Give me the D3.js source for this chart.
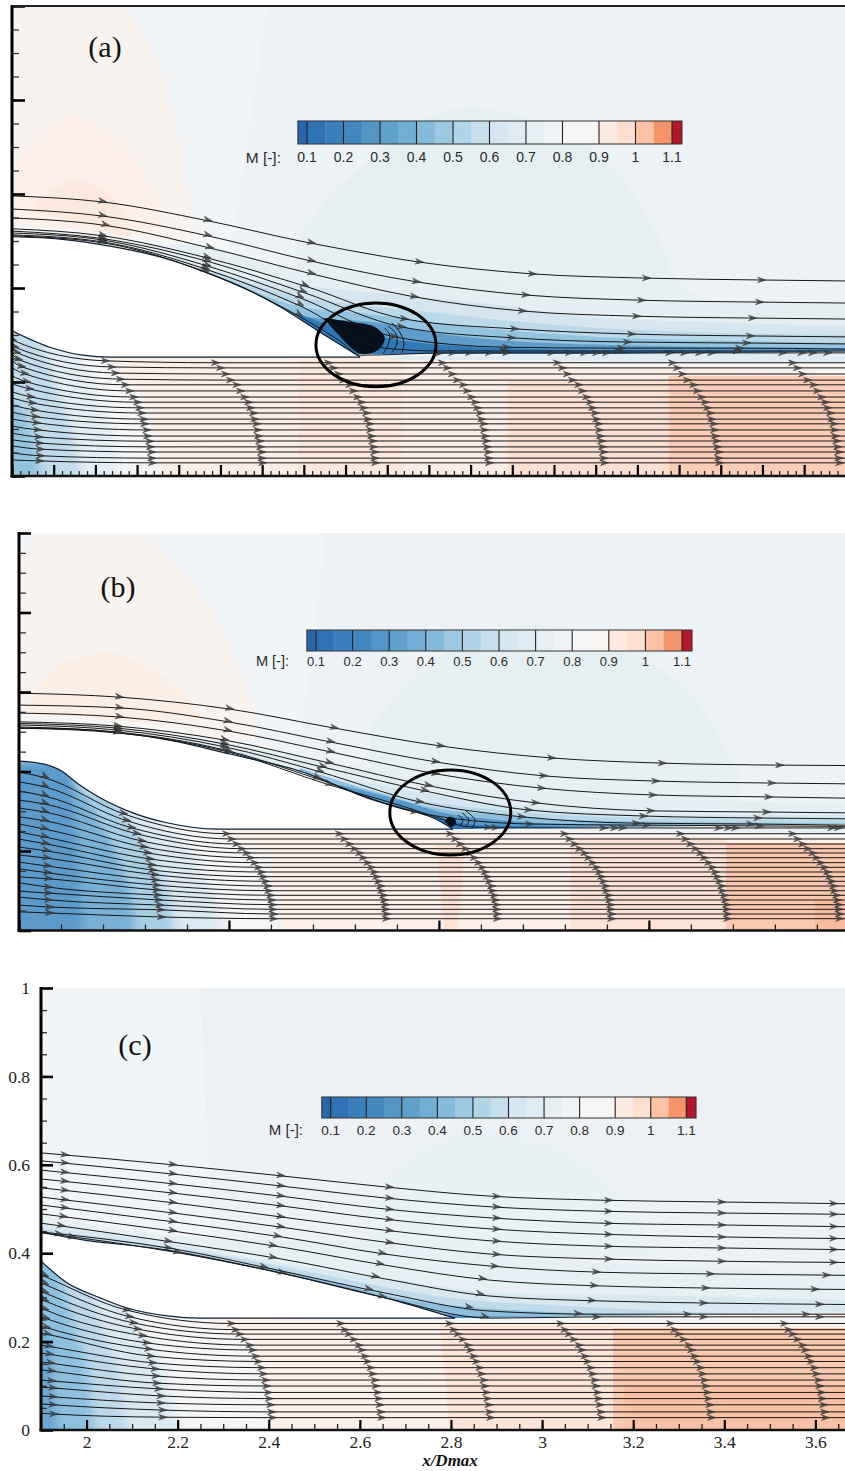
<!DOCTYPE html>
<html><head><meta charset="utf-8">
<script src="https://cdn.jsdelivr.net/npm/d3@7"></script>
<style>html,body{margin:0;padding:0;background:#fff}svg{display:block}</style>
</head><body><div id="chart"></div>
<script>
// Colour bar
const barEdges=[.075,.1,.15,.2,.25,.3,.35,.4,.45,.5,.55,.6,.65,.7,.75,.8,.85,.9,.95,1,1.05,1.1,1.127];
const barColors=["#2b66aa","#2f72b5","#3a7fba","#4288be","#5595c6","#5fa1ca","#70aed4","#85bada","#9cc8e0","#b1d5e7","#c5dfec","#d4e6f1","#deebf2","#e6eff4","#eff3f6","#f5f6f7","#f9f5f2","#fce9e0","#fcdfce","#fbc0a6","#f5936b","#b2182b"];
const barTicks=[.1,.2,.3,.4,.5,.6,.7,.8,.9,1,1.1];

// ---------- Panel (a) ----------
const aSurface=[[1.9,.509],[2.015,.504],[2.135,.489],[2.255,.466],[2.351,.438],[2.471,.394],[2.543,.36],[2.639,.306],[2.735,.253]];
const aLip=[[1.9,.309],[1.991,.274],[2.07,.257],[2.135,.253],[2.735,.253]];
const aUpperRegions=[
 ["#f1f5f7",[[1.9,1],[2.511,1]],[[2.43,.502],[1.9,.502]]],
 ["#f9f3ef",[[2.166,1],[2.231,.921],[2.279,.8],[2.32,.615],[2.344,.502]],[[1.9,.502],[1.9,1]]],
 ["#fbefe7",[[1.9,.64],[1.943,.704],[2.051,.766],[2.176,.694],[2.248,.587],[2.267,.53]],[[1.9,.5]]],
 ["#fce9dd",[[1.955,.581],[1.991,.604],[2.051,.628],[2.123,.604],[2.171,.555],[2.183,.509],[2.063,.541],[1.955,.56]],[]],
 ["#f4f5f5",[[1.9,.536],[2.015,.528],[2.159,.511],[2.279,.502],[2.423,.502]],[[2.423,.3],[1.9,.3]]],
 ["#e6f0f2",[[2.583,.502],[2.663,.598],[2.751,.666],[2.878,.758],[3.015,.783],[3.231,.73],[3.351,.645],[3.454,.502],[3.495,.417],[3.55,.381],[3.898,.375]],[[3.898,.26],[2.583,.26]]]
];
const aBands=[
 ["#e4eef3",[[2.183,.492],[2.351,.492],[2.495,.455],[2.591,.438],[2.83,.421],[3.07,.406],[3.31,.379],[3.55,.37],[3.898,.362]]],
 ["#d5e6f0",[[2.279,.47],[2.423,.428],[2.591,.406],[2.83,.385],[3.07,.364],[3.31,.336],[3.55,.328],[3.898,.319]]],
 ["#bcd9e9",[[2.351,.447],[2.495,.402],[2.591,.381],[2.735,.364],[2.902,.349],[3.07,.332],[3.31,.315],[3.55,.306],[3.898,.3]]],
 ["#94c3de",[[2.423,.417],[2.591,.36],[2.711,.349],[2.902,.328],[3.07,.311],[3.31,.296],[3.55,.289],[3.898,.283]]],
 ["#5d9ccb",[[2.495,.381],[2.615,.338],[2.759,.328],[2.902,.306],[3.07,.289],[3.31,.279],[3.898,.272]]],
 ["#3178b6",[[2.591,.343],[2.699,.311],[2.83,.289],[2.998,.275],[3.31,.268],[3.898,.266]]]
];
const aLowerRegions=[
 ["#fde8dd",[[2.586,.253],[2.835,.253]],[[2.835,0],[2.586,0]]],
 ["#fce0d1",[[3.089,.204],[3.475,.204]],[[3.475,0],[3.089,0]]],
 ["#f9cdb6",[[3.475,.213],[3.898,.213]],[[3.898,0],[3.475,0]]],
 ["#f4f5f6",[[2.135,.33],[2.135,.253],[2.214,.168],[2.248,.091],[2.262,0]],[[1.9,0],[1.9,.33]],1],
 ["#e3eef4",[[2.051,.33],[2.051,.279],[2.111,.162],[2.147,.077],[2.171,0]],[[1.9,0],[1.9,.33]],1],
 ["#c0dbea",[[1.967,.33],[1.967,.3],[2.015,.162],[2.051,.077],[2.075,0]],[[1.9,0],[1.9,.33]],1],
 ["#94c3de",[[1.9,.247],[1.931,.14],[1.955,.066],[1.991,0]],[[1.9,0]],1],
 ["#f5f4f2",[[2.543,.253],[2.782,.251],[3.07,.243],[3.406,.23],[3.898,.219]],[[3.898,.262],[2.735,.262]]],
 ["#dfecf3",[[2.735,.262],[2.83,.247],[3.07,.247],[3.406,.243],[3.898,.243]],[[3.898,.262]]]
];
const aCore=[[2.646,.336],[2.711,.328],[2.77,.317],[2.794,.294],[2.778,.268],[2.735,.26],[2.699,.285]];
const aLoops=[[[2.79,.26],[2.802,.279],[2.806,.3],[2.794,.315]],[[2.811,.262],[2.823,.281],[2.821,.302],[2.802,.319]],[[2.835,.262],[2.84,.283],[2.83,.306],[2.811,.326]]];
const aUpperX=[
 [1.9,2.118,2.37,2.591,2.703,2.878,3.149,3.423,3.699,3.898],
 [1.9,2.118,2.37,2.619,2.871,3.133,3.411,3.694,3.898],
 [1.9,2.125,2.375,2.619,2.866,3.125,3.399,3.677,3.898],
 [1.9,2.118,2.368,2.603,2.842,3.106,3.387,3.672,3.898],
 [1.9,2.118,2.368,2.598,2.835,3.099,3.377,3.663,3.898],
 [1.9,2.118,2.368,2.591,2.818,3.087,3.363,3.646,3.898],
 [1.9,2.118,2.365,2.591,2.794,2.926,3.31,3.898],
 [1.9,2.118,2.363,2.588,2.687,2.735,2.95,3.898]];
const aUpperY=[
 [.596,.583,.543,.5,.481,.455,.43,.421,.417,.415],
 [.568,.553,.511,.457,.413,.385,.374,.37,.368],
 [.549,.533,.485,.43,.381,.351,.34,.336,.334],
 [.526,.511,.464,.404,.334,.313,.302,.298,.296],
 [.521,.505,.457,.391,.317,.294,.285,.283,.281],
 [.517,.502,.447,.379,.296,.274,.272,.272,.27],
 [.513,.498,.44,.362,.272,.266,.266,.266],
 [.511,.496,.434,.34,.287,.257,.262,.262]];
const aUpperArrows=[
 [2.118,2.37,2.619,2.878,3.149,3.423,3.699],
 [2.118,2.37,2.619,2.871,3.133,3.411,3.694],
 [2.125,2.375,2.619,2.866,3.125,3.399,3.677],
 [2.118,2.368,2.603,2.842,3.106,3.387,3.672],
 [2.118,2.368,2.598,2.835,3.099,3.377,3.663],
 [2.118,2.368,2.591,2.818,3.087,3.363,3.646],
 [2.118,2.365,2.591,3.08,3.355,3.64],
 [2.118,2.363,2.588,2.926,2.958,2.998,3.046,3.087,3.195,3.238,3.274,3.303,3.327,3.478,3.514,3.55,3.579,3.749,3.795,3.821,3.857]];
const aRowStart=[.3,.287,.274,.26,.245,.23,.213,.196,.179,.166,.151,.136,.121,.106,.091,.077,.064,.049,.034];
const aCol0X=[1.902,1.907,1.912,1.917,1.924,1.931,1.936,1.943,1.946,1.95,1.955,1.957,1.96,1.962,1.965,1.967,1.969,1.969,1.967];
const aCol0Y=[.289,.274,.262,.247,.232,.217,.2,.185,.168,.155,.14,.126,.113,.098,.083,.07,.057,.043,.032];
const aCol1X=[2.125,2.14,2.149,2.161,2.173,2.183,2.193,2.202,2.207,2.212,2.217,2.219,2.224,2.226,2.231,2.233,2.236,2.236,2.238];
const aCol1Y=[.245,.232,.219,.206,.194,.181,.168,.157,.145,.134,.121,.111,.098,.085,.074,.062,.051,.038,.028];
const aRowFinal=[.241,.23,.217,.204,.194,.181,.168,.157,.145,.134,.121,.111,.098,.085,.0745,.062,.051,.038,.028];
const aSweep=[.113,.101,.089,.077,.062,.053,.043,.034,.029,.022,.019,.014,.012,.01,.007,.005,.002,.002,0];
const aColEnds=[2.502,2.773,3.046,3.322,3.598,3.886];

// ---------- Panel (b) ----------
const bSurface=[[1.9,.509],[2.021,.507],[2.14,.497],[2.267,.477],[2.402,.444],[2.569,.401],[2.736,.331],[2.88,.286],[2.933,.255]];
const bLip=[[1.902,.426],[1.957,.419],[2.005,.399],[2.038,.371],[2.093,.334],[2.171,.296],[2.252,.271],[2.371,.255],[2.933,.255]];
const bUpperRegions=[
 ["#f1f5f7",[[1.9,1],[2.629,1]],[[2.598,.681],[2.569,.504],[1.9,.504]]],
 ["#f9f3ef",[[1.9,.932],[1.91,.95],[1.967,1],[2.171,1],[2.252,.94],[2.348,.824],[2.426,.656],[2.467,.53],[2.467,.48]],[[1.9,.48]]],
 ["#fbeee5",[[1.926,.572],[1.99,.663],[2.11,.698],[2.212,.663],[2.3,.587],[2.338,.53]],[[2.14,.52],[1.926,.545]]],
 ["#f5f5f4",[[1.9,.542],[2.045,.537],[2.212,.517],[2.402,.479],[2.498,.467]],[[2.498,.328],[1.9,.328]]],
 ["#e6f0f2",[[2.736,.512],[2.843,.638],[2.974,.731],[3.14,.769],[3.307,.731],[3.421,.663],[3.512,.58],[3.595,.429],[3.617,.391]],[[3.617,.265],[2.736,.265]]]
];
const bBands=[
 ["#e3eef3",[[2.283,.492],[2.521,.449],[2.736,.404],[2.974,.366],[3.188,.341],[3.521,.328],[3.867,.316]]],
 ["#d4e6f0",[[2.331,.467],[2.569,.404],[2.76,.366],[2.974,.328],[3.188,.303],[3.521,.291],[3.867,.291]]],
 ["#bcd9e9",[[2.426,.449],[2.617,.386],[2.807,.336],[3.045,.303],[3.283,.286],[3.867,.278]]],
 ["#8fc0dd",[[2.569,.409],[2.736,.353],[2.879,.311],[3.045,.291],[3.283,.276],[3.867,.27]]],
 ["#5698c9",[[2.664,.366],[2.807,.328],[2.902,.298],[3.045,.278],[3.283,.265],[3.867,.263]]],
 ["#2f74b4",[[2.76,.323],[2.879,.288],[2.998,.265],[3.283,.26],[3.867,.258]]]
];
const bLowerRegions=[
 ["#fde3d6",[[2.893,.215],[2.962,.215]],[[2.945,0],[2.914,0]]],
 ["#fde3d5",[[3.214,.233],[3.583,.233]],[[3.583,0],[3.214,0]]],
 ["#f9c8ae",[[3.583,.22],[3.867,.22]],[[3.867,0],[3.583,0]]],
 ["#f8bb9d",[[3.795,.077],[3.867,.077]],[[3.867,0],[3.795,0]]],
 ["#f4f5f6",[[2.362,.33],[2.362,.258],[2.49,.195],[2.514,.102],[2.529,0]],[[1.9,0],[1.9,.33]],1],
 ["#dbe9f2",[[2.188,.33],[2.307,.203],[2.367,.077],[2.414,0]],[[1.9,0],[1.9,.33]],1],
 ["#a9cfe5",[[2.105,.353],[2.212,.203],[2.26,.077],[2.283,0]],[[1.9,0],[1.9,.353]],1],
 ["#78b0d6",[[2.021,.404],[2.117,.228],[2.164,.102],[2.188,0]],[[1.9,0],[1.9,.404]],1],
 ["#5b9acb",[[2.021,.429],[2.033,.253],[2.045,.127],[2.057,0]],[[1.9,0],[1.9,.429]],1],
 ["#f5f4f2",[[2.569,.255],[2.807,.253],[3.045,.243],[3.867,.233]],[[3.867,.258],[2.569,.258]]],
 ["#e6f0f5",[[2.933,.255],[3.867,.245]],[[3.867,.258],[2.933,.258]]]
];
const bCore=[[2.914,.273],[2.924,.286],[2.938,.281],[2.94,.268],[2.929,.26]];
const bLoops=[[[2.95,.263],[2.957,.278],[2.945,.291]],[[2.964,.26],[2.971,.278],[2.955,.296]],[[2.979,.258],[2.986,.278],[2.964,.301]]];
const bUpperX=[
 [1.9,2.14,2.402,2.652,2.905,3.169,3.433,3.712,3.867],
 [1.9,2.14,2.398,2.643,2.893,3.15,3.417,3.693,3.867],
 [1.9,2.14,2.398,2.643,2.893,3.145,3.41,3.686,3.867],
 [1.9,2.136,2.39,2.64,2.876,3.131,3.405,3.681,3.867],
 [1.9,2.136,2.39,2.624,2.867,3.114,3.388,3.66,3.867],
 [1.9,2.136,2.39,2.617,2.855,3.098,3.371,3.643,3.867],
 [1.9,2.136,2.39,2.612,2.843,3.117,3.395,3.664,3.867],
 [1.9,2.136,2.402,2.64,2.807,2.914,2.96,3.045,3.867]];
const bUpperY=[
 [.597,.587,.557,.509,.464,.434,.421,.416,.415],
 [.567,.56,.525,.474,.424,.389,.376,.371,.369],
 [.547,.537,.502,.449,.394,.358,.341,.336,.333],
 [.525,.514,.479,.421,.364,.321,.301,.298,.296],
 [.521,.509,.469,.411,.351,.303,.288,.283,.281],
 [.517,.504,.462,.399,.323,.286,.27,.268,.265],
 [.512,.499,.454,.381,.298,.268,.265,.263,.262],
 [.509,.497,.448,.366,.315,.278,.262,.258,.258]];
const bUpperArrows=[
 [2.14,2.402,2.652,2.905,3.169,3.433,3.712],
 [2.14,2.398,2.643,2.893,3.15,3.417,3.693],
 [2.14,2.398,2.643,2.893,3.145,3.41,3.686],
 [2.136,2.39,2.64,2.876,3.131,3.405,3.681],
 [2.136,2.39,2.624,2.867,3.114,3.388,3.66],
 [2.136,2.39,2.617,2.855,3.098,3.371,3.643],
 [2.136,2.39,2.612,2.843,3.117,3.395,3.664],
 [2.136,2.402,2.64,3.019,3.036,3.293,3.319,3.338,3.567,3.59,3.607,3.836,3.852]];
const bRowStart=[.399,.374,.351,.328,.308,.286,.268,.248,.23,.21,.19,.172,.155,.135,.12,.099,.084,.064,.047];
const bCol0X=[1.962,1.962,1.962,1.962,1.962,1.962,1.962,1.962,1.964,1.967,1.967,1.969,1.969,1.971,1.971,1.971,1.971,1.974,1.974];
const bCol0Y=[.384,.361,.338,.318,.298,.276,.255,.235,.218,.2,.182,.162,.145,.13,.109,.094,.077,.059,.044];
const bCol1X=[2.15,2.157,2.169,2.181,2.193,2.198,2.207,2.212,2.217,2.219,2.224,2.226,2.229,2.229,2.231,2.233,2.236,2.238,2.24];
const bCol1Y=[.293,.276,.258,.243,.225,.21,.195,.18,.165,.152,.14,.127,.114,.102,.089,.077,.064,.052,.034];
const bRowFinal=[.2435,.2302,.2176,.2058,.195,.1831,.1706,.159,.1472,.1354,.1238,.1119,.1001,.0885,.0767,.0649,.0533,.0415,.0297];
const bSweep=[.112,.1,.088,.076,.064,.055,.045,.036,.029,.024,.019,.014,.012,.007,.005,.002,.002,0,0];
const bColEnds=[2.507,2.776,3.04,3.312,3.588,3.855];

// ---------- Panel (c) ----------
const cSurface=[[1.9,.448],[1.992,.43],[2.177,.407],[2.396,.362],[2.541,.328],[2.688,.29],[2.809,.253]];
const cLip=[[1.9,.382],[1.957,.333],[2.03,.299],[2.089,.276],[2.177,.258],[2.249,.253],[2.809,.253]];
const cUpperRegions=[
 ["#f2f5f7",[[1.9,1],[2.249,1]],[[2.271,.565],[2.271,.43],[1.9,.43]]],
 ["#e8f1f3",[[2.598,.43],[2.675,.588],[2.776,.656],[2.851,.672],[3.002,.649],[3.14,.565],[3.233,.43],[3.248,.396]],[[2.598,.396]]]
];
const cBands=[
 ["#e6f0f4",[[1.9,.486],[2.183,.441],[2.359,.43],[2.6,.425],[2.908,.396],[3.237,.373],[3.665,.357]]],
 ["#d9e9f1",[[1.9,.464],[2.139,.43],[2.381,.385],[2.688,.339],[2.908,.31],[3.237,.305],[3.665,.294]]],
 ["#bfdbea",[[1.9,.455],[2.249,.403],[2.469,.362],[2.688,.317],[2.842,.294],[3.017,.283],[3.237,.271],[3.665,.26]]],
 ["#8dbedc",[[2.381,.373],[2.556,.33],[2.732,.29],[2.864,.276],[3.017,.267],[3.215,.26],[3.347,.256]]],
 ["#4b8ec3",[[2.556,.323],[2.732,.271],[2.842,.258],[3.039,.256]]]
];
const cLowerRegions=[
 ["#fde5d8",[[2.776,.238],[3.156,.238]],[[3.156,0],[2.796,0]]],
 ["#f9c9b0",[[3.156,.231],[3.665,.231]],[[3.665,0],[3.156,0]]],
 ["#f9c2a6",[[3.182,.102],[3.665,.102]],[[3.665,0],[3.182,0]]],
 ["#f4f5f6",[[2.265,.4],[2.265,.253],[2.359,.192],[2.398,.102],[2.403,0]],[[1.9,0],[1.9,.4]],1],
 ["#dbe9f2",[[2.089,.4],[2.089,.276],[2.172,.136],[2.227,0]],[[1.9,0],[1.9,.4]],1],
 ["#bcd8e9",[[2.008,.4],[2.008,.305],[2.069,.136],[2.102,0]],[[1.9,0],[1.9,.4]],1],
 ["#8fc0dd",[[1.942,.4],[1.942,.339],[1.997,.158],[2.03,0]],[[1.9,0],[1.9,.4]],1],
 ["#6ca6d1",[[1.9,.373],[1.92,.204],[1.942,0]],[[1.9,0]],1],
 ["#f6f4f2",[[2.26,.254],[2.8,.243],[3.665,.24]],[[3.665,.256],[2.26,.256]]]
];
const cUpperX=[1.9,2.19,2.427,2.655,2.886,3.127,3.38,3.665];
const cUpperY=[
 [.627,.6,.575,.55,.529,.52,.516,.512],
 [.609,.579,.552,.525,.505,.495,.491,.488],
 [.588,.557,.529,.5,.48,.468,.464,.46],
 [.568,.536,.507,.477,.455,.443,.437,.433],
 [.548,.514,.482,.452,.428,.416,.412,.408],
 [.527,.491,.459,.425,.398,.387,.382,.379],
 [.509,.471,.437,.398,.371,.357,.353,.35],
 [.489,.45,.414,.373,.339,.326,.321,.318],
 [.468,.425,.387,.342,.303,.292,.287,.284],
 [.448,.41,.36,.31,.269,.262,.262,.262],
 [.446,.403,.355,.299,.253,.256,.256,.256]];
const cUpperArrows=[
 [1.953,2.19,2.427,2.666,2.901,3.147,3.395,3.641],
 [1.953,2.19,2.427,2.666,2.901,3.147,3.395,3.641],
 [1.953,2.19,2.427,2.666,2.901,3.147,3.395,3.641],
 [1.953,2.19,2.427,2.666,2.901,3.147,3.395,3.641],
 [1.953,2.19,2.427,2.666,2.901,3.147,3.395,3.641],
 [1.953,2.19,2.427,2.666,2.901,3.147,3.395,3.641],
 [1.953,2.19,2.42,2.65,2.897,3.12,3.37,3.625],
 [1.95,2.19,2.41,2.645,2.87,3.115,3.36,3.6],
 [1.945,2.18,2.41,2.635,2.865,3.11,3.355,3.61],
 [1.94,2.18,2.39,2.62,2.84,3.08,3.32,3.58],
 [1.97,2.2,2.43,2.65,2.875,3.12,3.355,3.61]];
const cRowStart=[.351,.333,.314,.296,.276,.256,.235,.219,.192,.174,.154,.136,.113,.097,.077,.059,.038];
const cCol0X=[1.909,1.909,1.909,1.909,1.909,1.911,1.913,1.915,1.918,1.92,1.922,1.924,1.924,1.927,1.927,1.927,1.929];
const cCol0Y=[.347,.329,.31,.292,.272,.252,.231,.216,.189,.171,.151,.133,.111,.095,.075,.057,.036];
const cCol1X=[2.089,2.095,2.104,2.113,2.124,2.133,2.137,2.142,2.146,2.151,2.153,2.155,2.159,2.164,2.164,2.168,2.168];
const cCol1Y=[.271,.256,.242,.228,.213,.197,.183,.167,.152,.138,.122,.106,.093,.077,.061,.045,.029];
const cRowFinal=[.241,.227,.217,.205,.192,.181,.167,.155,.141,.127,.113,.0995,.085,.071,.057,.041,.028];
const cSweep=[.09,.081,.072,.061,.05,.044,.037,.031,.024,.02,.015,.013,.009,.007,.004,.002,0];
const cColEnds=[2.409,2.649,2.888,3.132,3.373,3.623];
const cYLabels=[0,.2,.4,.6,.8,1];
const cXLabels=[2,2.2,2.4,2.6,2.8,3,3.2,3.4,3.6];

const W=845,H=1471;
const svg=d3.select("#chart").append("svg").attr("width",W).attr("height",H);
const defs=svg.append("defs");
defs.append("filter").attr("id","soft").attr("x","-30%").attr("y","-30%").attr("width","160%").attr("height","160%")
  .append("feGaussianBlur").attr("stdDeviation",5);

function seq(a,b,s){const o=[];for(let i=0;Math.round((a+i*s)*1000)/1000<=b+1e-9;i++)o.push(Math.round((a+i*s)*1000)/1000);return o;}

function yAt(xs,ys,v){
  let i=d3.bisectRight(xs,v)-1; i=Math.max(0,Math.min(xs.length-2,i));
  return d3.scaleLinear().domain([xs[i],xs[i+1]]).range([ys[i],ys[i+1]])(v);
}

function drawPanel(p){
  const x=d3.scaleLinear().domain(p.xDomain).range(p.xRange);
  const y=d3.scaleLinear().domain([0,1]).range(p.yRange);
  const g=svg.append("g");
  const id=p.id;
  defs.append("clipPath").attr("id","plot"+id).append("rect")
    .attr("x",p.xRange[0]).attr("y",p.yRange[1]).attr("width",p.xRange[1]-p.xRange[0]).attr("height",p.yRange[0]-p.yRange[1]);
  const smooth=d3.line().x(d=>x(d[0])).y(d=>y(d[1])).curve(d3.curveCatmullRom.alpha(.5));
  const mono=d3.line().x(d=>x(d[0])).y(d=>y(d[1])).curve(d3.curveMonotoneX);
  const straight=d3.line().x(d=>x(d[0])).y(d=>y(d[1]));
  const tail=c=>c.map(d=>"L"+x(d[0])+","+y(d[1])).join("");
  const plot=g.append("g").attr("clip-path","url(#plot"+id+")");
  plot.append("rect").attr("x",x(p.xDomain[0])).attr("y",y(1)).attr("width",x(p.xDomain[1])-x(p.xDomain[0])).attr("height",y(0)-y(1)).attr("fill",p.base);
  plot.selectAll("path.up").data(p.upper).join("path").attr("class","up").attr("fill",d=>d[0]).attr("d",d=>smooth(d[1])+tail(d[2])+"Z");
  const closeY=p.closeY, xMax=p.xDomain[1];
  plot.selectAll("path.band").data(p.bands).join("path").attr("class","band").attr("fill",d=>d[0])
    .attr("d",d=>mono(d[1])+tail([[d[1][d[1].length-1][0],closeY],[d[1][0][0],closeY]])+"Z");
  // solid body
  plot.append("path").attr("fill","#fff").attr("d",smooth(p.surface)+tail(p.lip.slice().reverse())+"Z");
  // lower duct, clipped to the wall
  const lowerPoly=[[xMax,p.lip[p.lip.length-1][1]+.012],[xMax,0],[p.xDomain[0],0]];
  defs.append("clipPath").attr("id","low"+id).append("path").attr("d",mono(p.lip)+tail(lowerPoly)+"Z");
  const low=plot.append("g").attr("clip-path","url(#low"+id+")");
  low.append("rect").attr("x",x(p.xDomain[0])).attr("y",y(.5)).attr("width",x(xMax)-x(p.xDomain[0])).attr("height",y(0)-y(.5)).attr("fill",p.lowerBase);
  const spread=d=>[d[0]<=1.9?1.75:d[0], d[1]<=0?-.1:d[1]];
  low.selectAll("path").data(p.lower).join("path").attr("fill",d=>d[0])
    .attr("filter",d=>d[3]?"url(#soft)":null)
    .attr("d",d=>d[3]?straight(d[1].map(spread))+tail(d[2].map(spread))+"Z":straight(d[1])+tail(d[2])+"Z");
  // walls
  plot.append("path").attr("fill","none").attr("stroke","#0c1f33").attr("stroke-width",1.2).attr("d",smooth(p.surface));
  plot.append("path").attr("fill","none").attr("stroke","#0c1f33").attr("stroke-width",1.2).attr("d",mono(p.lip));
  if(p.core) plot.append("path").attr("fill","#05101c").attr("d",smooth(p.core)+"Z");
  // streamlines
  const lines=plot.append("g").attr("fill","none").attr("stroke","#161616").attr("stroke-width",1);
  const arrows=plot.append("g").attr("fill","#444").attr("stroke","#222").attr("stroke-width",.4).attr("fill-opacity",.85);
  const addArrow=(ax,ay,ang)=>arrows.append("path").attr("d","M0,0L-8.5,-2.9L-5.8,0L-8.5,2.9Z")
     .attr("transform","translate("+(x(ax)+4)+","+y(ay)+") rotate("+ang+")");
  const addStream=(xs,ys,axs)=>{
    lines.append("path").attr("d",mono(xs.map((v,i)=>[v,ys[i]])));
    axs.forEach(ax=>{
      let i=d3.bisectRight(xs,ax)-1; i=Math.max(0,Math.min(xs.length-2,i));
      const ang=Math.atan2(y(ys[i+1])-y(ys[i]),x(xs[i+1])-x(xs[i]))*180/Math.PI;
      addArrow(ax,yAt(xs,ys,ax),ang);
    });
  };
  p.upperY.forEach((ys,i)=>{
    const xs=Array.isArray(p.upperX[0])?p.upperX[i]:p.upperX;
    addStream(xs,ys,p.upperArrows[i]);
  });
  (p.loops||[]).forEach(l=>lines.append("path").attr("d",smooth(l)));
  // duct streamlines
  p.rowStart.forEach((s,i)=>{
    const cols=p.colEnds.map(e=>+(e-p.sweep[i]).toFixed(3));
    const xs=[p.xDomain[0],p.col0X[i],p.col1X[i]].concat(cols,[xMax]);
    const ys=[s,p.col0Y[i],p.col1Y[i]].concat(cols.map(()=>p.rowFinal[i]),[p.rowFinal[i]]);
    addStream(xs,ys,[p.col0X[i],p.col1X[i]].concat(cols));
  });
  // colour bar
  const b=p.bar;
  const bx=d3.scaleLinear().domain([.1,1.1]).range([b.x0,b.x1]);
  const bg=g.append("g");
  bg.selectAll("rect").data(barColors).join("rect")
    .attr("x",(d,i)=>bx(barEdges[i])).attr("y",b.top)
    .attr("width",(d,i)=>bx(barEdges[i+1])-bx(barEdges[i])+.4).attr("height",b.bottom-b.top).attr("fill",d=>d);
  bg.selectAll("line").data(barTicks).join("line").attr("x1",d=>bx(d)).attr("x2",d=>bx(d)).attr("y1",b.top).attr("y2",b.bottom).attr("stroke","#222").attr("stroke-width",1.1);
  bg.append("rect").attr("x",bx(.075)).attr("y",b.top).attr("width",bx(1.127)-bx(.075)).attr("height",b.bottom-b.top).attr("fill","none").attr("stroke","#333").attr("stroke-width",1);
  bg.selectAll("text.t").data(barTicks).join("text").attr("class","t").attr("x",d=>bx(d)).attr("y",b.labelY).attr("text-anchor","middle").attr("dy","0.36em")
    .attr("font-family","'Liberation Sans',Arial,sans-serif").attr("font-size",b.fs).attr("fill","#2a2a2a").text(d=>d);
  bg.append("text").attr("x",b.mx).attr("y",b.labelY).attr("text-anchor","end").attr("dy","0.36em")
    .attr("font-family","'Liberation Sans',Arial,sans-serif").attr("font-size",b.fs+1.5).attr("fill","#2a2a2a").text("M [-]:");
  // panel tag
  g.append("text").attr("x",p.tag[0]).attr("y",p.tag[1]).attr("text-anchor","middle").attr("font-family","'Liberation Serif',serif").attr("font-size",30).attr("fill","#111").text(p.tag[2]);
  // ellipse mark
  if(p.ring) g.append("ellipse").attr("cx",x(p.ring[0])).attr("cy",y(p.ring[1])).attr("rx",x(p.ring[0]+p.ring[2])-x(p.ring[0])).attr("ry",y(p.ring[1])-y(p.ring[1]+p.ring[3]))
    .attr("fill","none").attr("stroke","#000").attr("stroke-width",3);
  // axes
  const ax=g.append("g").attr("class","axes");
  const style=(sel,w,col)=>{sel.selectAll("line").attr("stroke",col||"#000").attr("stroke-width",w);sel.selectAll("path.domain").remove();sel.selectAll("text").remove();};
  const left=x.range()[0], bot=y.range()[0];
  const yMin=ax.append("g").attr("transform","translate("+left+",0)").call(d3.axisLeft(y).tickValues(seq(0,1,.05)).tickSize(-p.tickLens[1]));style(yMin,1.3,"#333");
  const yMaj=ax.append("g").attr("transform","translate("+left+",0)").call(d3.axisLeft(y).tickValues(seq(0,1,.2)).tickSize(-p.tickLens[0]));style(yMaj,2.6);
  const xMin=ax.append("g").attr("transform","translate(0,"+bot+")").call(d3.axisBottom(x).tickValues(p.xMinor).tickSize(-p.tickLens[3]));style(xMin,1.3,"#222");
  const xMaj=ax.append("g").attr("transform","translate(0,"+bot+")").call(d3.axisBottom(x).tickValues(p.xMajor).tickSize(-p.tickLens[2]));style(xMaj,2.2);
  ax.append("line").attr("x1",left).attr("x2",left).attr("y1",y(1)-1).attr("y2",bot+1.5).attr("stroke","#000").attr("stroke-width",3);
  ax.append("line").attr("x1",left-1.5).attr("x2",x.range()[1]).attr("y1",bot).attr("y2",bot).attr("stroke","#111").attr("stroke-width",2.6);
  if(p.topLine) ax.append("line").attr("x1",left).attr("x2",x.range()[1]).attr("y1",y(1)).attr("y2",y(1)).attr("stroke","#222").attr("stroke-width",2);
  if(p.labels){
    const yl=d3.axisLeft(y).tickValues(cYLabels).tickSize(0).tickPadding(11).tickFormat(d3.format("~g"));
    const xl=d3.axisBottom(x).tickValues(cXLabels).tickSize(0).tickPadding(6).tickFormat(d3.format("~g"));
    const a1=ax.append("g").attr("transform","translate("+left+",0)").call(yl);
    const a2=ax.append("g").attr("transform","translate(0,"+bot+")").call(xl);
    [a1,a2].forEach(s=>{s.selectAll("path.domain").remove();s.selectAll("text").attr("font-family","'Liberation Serif',serif").attr("font-size",17.5).attr("fill","#222");});
    ax.append("text").attr("x",450).attr("y",1466).attr("text-anchor","middle").attr("font-family","'Liberation Serif',serif").attr("font-style","italic").attr("font-weight","bold").attr("font-size",17).attr("fill","#111").text("x/Dmax");
  }
}

drawPanel({id:"a",xDomain:[1.9,3.898],xRange:[12,845],yRange:[476,6],base:"#edf2f6",lowerBase:"#fbeee6",closeY:.26,
 surface:aSurface,lip:aLip,upper:aUpperRegions,bands:aBands,lower:aLowerRegions,core:aCore,loops:aLoops,
 upperX:aUpperX,upperY:aUpperY,upperArrows:aUpperArrows,rowStart:aRowStart,col0X:aCol0X,col0Y:aCol0Y,col1X:aCol1X,col1Y:aCol1Y,rowFinal:aRowFinal,sweep:aSweep,colEnds:aColEnds,
 bar:{x0:307,x1:672,top:121,bottom:144,labelY:157,mx:281,fs:14},tag:[105,57,"(a)"],ring:[2.773,.279,.144,.089],
 tickLens:[13,7,11,5],xMajor:seq(1.9,3.8,.1),xMinor:seq(1.9,3.88,.02),topLine:true,labels:false});
drawPanel({id:"b",xDomain:[1.9,3.867],xRange:[19,845],yRange:[930.5,533],base:"#edf2f6",lowerBase:"#fcefe7",closeY:.254,
 surface:bSurface,lip:bLip,upper:bUpperRegions,bands:bBands,lower:bLowerRegions,core:bCore,loops:bLoops,
 upperX:bUpperX,upperY:bUpperY,upperArrows:bUpperArrows,rowStart:bRowStart,col0X:bCol0X,col0Y:bCol0Y,col1X:bCol1X,col1Y:bCol1Y,rowFinal:bRowFinal,sweep:bSweep,colEnds:bColEnds,
 bar:{x0:316,x1:682,top:630,bottom:651,labelY:661,mx:289,fs:13},tag:[118,597,"(b)"],ring:[2.927,.297,.144,.107],
 tickLens:[12,7,10,6],xMajor:seq(1.9,3.4,.5),xMinor:seq(1.9,3.8,.1),topLine:false,labels:false});
drawPanel({id:"c",xDomain:[1.9,3.665],xRange:[41,845],yRange:[1430,988],base:"#ecf1f5",lowerBase:"#fdf0e9",closeY:.25,
 surface:cSurface,lip:cLip,upper:cUpperRegions,bands:cBands,lower:cLowerRegions,
 upperX:cUpperX,upperY:cUpperY,upperArrows:cUpperArrows,rowStart:cRowStart,col0X:cCol0X,col0Y:cCol0Y,col1X:cCol1X,col1Y:cCol1Y,rowFinal:cRowFinal,sweep:cSweep,colEnds:cColEnds,
 bar:{x0:330.7,x1:686.3,top:1097,bottom:1118,labelY:1130,mx:303,fs:13.5},tag:[135,1055,"(c)"],
 tickLens:[12,6,10,6],xMajor:seq(2,3.6,.2),xMinor:seq(1.9,3.65,.05),topLine:false,labels:true});
</script></body></html>
